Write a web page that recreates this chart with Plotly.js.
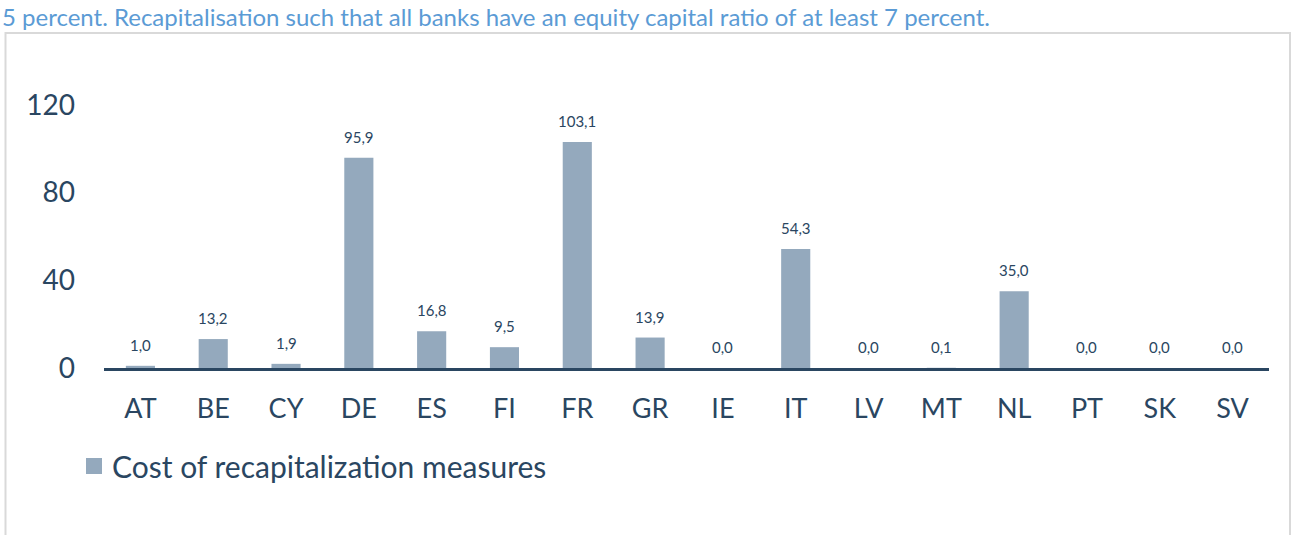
<!DOCTYPE html>
<html>
<head>
<meta charset="utf-8">
<script src="https://cdn.plot.ly/plotly-3.0.1.min.js"></script>
<style>
  html, body { margin: 0; padding: 0; background: #ffffff; }
  #chart { width: 1292px; height: 535px; }
</style>
</head>
<body>
<div id="chart"></div>
<script>
const categories = ["AT","BE","CY","DE","ES","FI","FR","GR","IE","IT","LV","MT","NL","PT","SK","SV"];
const costValues = [1.0, 13.2, 1.9, 95.9, 16.8, 9.5, 103.1, 13.9, 0.0, 54.3, 0.0, 0.1, 35.0, 0.0, 0.0, 0.0];
const seriesName = "Cost of recapitalization measures";
const yTicks = [0, 40, 80, 120];
const topText = "5 percent. Recapitalisation such that all banks have an equity capital ratio of at least 7 percent.";

const W = 1292, H = 535;
const M = {l: 104, r: 23, t: 105, b: 167};
const pw = W - M.l - M.r, ph = H - M.t - M.b;
const px = x => (x - M.l) / pw;
const py = y => (H - M.b - y) / ph;

const dark = "#2a4661";
const barColor = "#94a9bd";
const fontFam = "Lato, 'Open Sans', sans-serif";

const trace = {
  type: "bar",
  x: categories,
  y: costValues,
  name: seriesName,
  marker: {color: barColor},
  showlegend: false,
  hoverinfo: "x+y"
};

const labelAnnotations = categories.map((c, i) => ({
  x: c, y: costValues[i], xref: "x", yref: "y",
  text: costValues[i].toFixed(1).replace(".", ","),
  showarrow: false, yanchor: "middle", yshift: 21,
  font: {family: fontFam, size: 15, color: dark}
}));

const layout = {
  width: W, height: H,
  margin: M,
  paper_bgcolor: "#ffffff",
  plot_bgcolor: "#ffffff",
  bargap: 0.6,
  showlegend: false,
  font: {family: fontFam, color: dark},
  xaxis: {
    type: "category",
    showgrid: false,
    showline: true, linecolor: dark, linewidth: 3,
    ticks: "", ticklabelstandoff: 15,
    tickfont: {family: fontFam, size: 27, color: dark},
    zeroline: false, fixedrange: true
  },
  yaxis: {
    range: [0, 120],
    tickvals: yTicks,
    ticktext: yTicks.map(String),
    showgrid: false, zeroline: false, showline: false,
    ticks: "", ticklabelstandoff: 28,
    tickfont: {family: fontFam, size: 28, color: dark},
    fixedrange: true
  },
  shapes: [
    {
      type: "rect", xref: "paper", yref: "paper",
      x0: px(5.5), x1: px(1290), y0: py(560), y1: py(33),
      line: {color: "#d9d9d9", width: 2}, fillcolor: "rgba(0,0,0,0)", layer: "below"
    },
    {
      type: "rect", xref: "paper", yref: "paper",
      x0: px(86), x1: px(102), y0: py(474), y1: py(458),
      line: {width: 0}, fillcolor: barColor
    }
  ],
  annotations: labelAnnotations.concat([
    {
      xref: "paper", yref: "paper",
      x: px(110), y: py(466), xanchor: "left", yanchor: "middle",
      text: seriesName, showarrow: false,
      font: {family: fontFam, size: 30, color: dark}
    },
    {
      xref: "paper", yref: "paper",
      x: px(0), y: py(0), xanchor: "left", yanchor: "top",
      text: topText, showarrow: false,
      font: {family: fontFam, size: 24, color: "#5b9bd5"}
    }
  ])
};

Plotly.newPlot("chart", [trace], layout, {displayModeBar: false, staticPlot: true});
</script>
</body>
</html>
